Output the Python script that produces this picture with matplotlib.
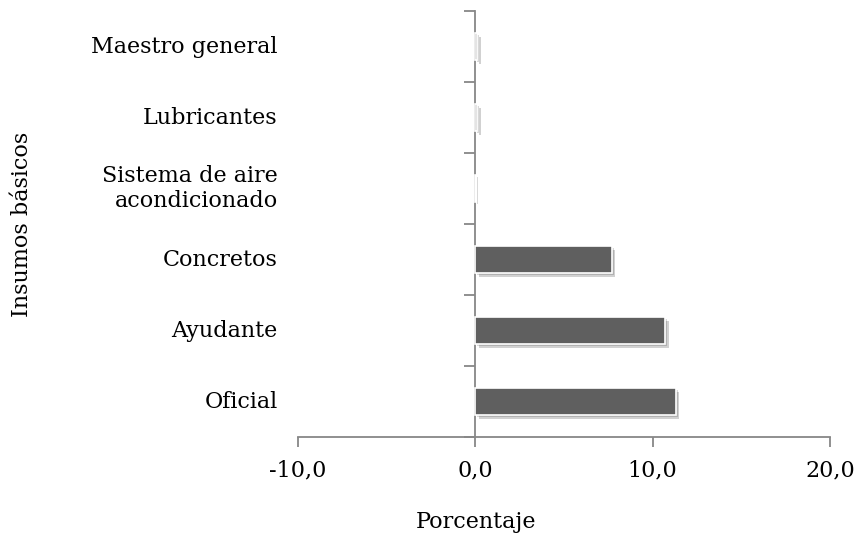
import matplotlib
matplotlib.use("Agg")
import matplotlib.pyplot as plt
import matplotlib.patheffects as pe
import numpy as np

categories = ["Oficial", "Ayudante", "Concretos", "Sistema de aire\nacondicionado", "Lubricantes", "Maestro general"]
values = [11.3, 10.7, 7.7, 0.02, 0.1, 0.1]
xticks = [-10, 0, 10, 20]
xticklabels = ["-10,0", "0,0", "10,0", "20,0"]

plt.rcParams['font.family'] = ['DejaVu Serif']
axis_color = "#878787"
fs = 16

fig = plt.figure(figsize=(8.59, 5.37), dpi=100)
ax = fig.add_axes([298/859, 1-437/537, (830-298)/859, (437-11)/537])

y = np.arange(len(categories))
bars = ax.barh(y, values, height=0.38, color="#5f5f5f", edgecolor="white", linewidth=1.2, zorder=3)
for b in bars:
    b.set_path_effects([pe.SimplePatchShadow(offset=(2.5, -3), shadow_rgbFace="black", alpha=0.18),
                        pe.SimplePatchShadow(offset=(1.5, -1.5), shadow_rgbFace="black", alpha=0.15),
                        pe.Normal()])

ax.set_xlim(-10, 20)
ax.set_ylim(-0.5, len(categories) - 0.5)

for s in ["top", "right"]:
    ax.spines[s].set_visible(False)
ax.spines["left"].set_position(("data", 0))
ax.spines["left"].set_color(axis_color)
ax.spines["bottom"].set_color(axis_color)
ax.spines["left"].set_linewidth(1.3)
ax.spines["bottom"].set_linewidth(1.3)

ax.set_yticks(np.arange(-0.5, len(categories), 1.0))
ax.set_yticklabels([])
ax.tick_params(axis="y", direction="out", length=8, width=1.3, color=axis_color)
ax.set_xticks(xticks)
ax.set_xticklabels(xticklabels, fontsize=fs)
ax.tick_params(axis="x", direction="out", length=7, width=1.3, color=axis_color, pad=9)

for yi, cat in zip(y, categories):
    ax.text(-0.038, yi, cat, transform=ax.get_yaxis_transform(), ha="right", va="center",
            fontsize=fs, linespacing=1.15)

fig.text(476/859, 1-522/537, "Porcentaje", ha="center", va="center", fontsize=fs)
fig.text(22/859, 1-224/537, "Insumos básicos", ha="center", va="center", rotation=90, fontsize=fs)

fig.savefig("out.png", dpi=100)
